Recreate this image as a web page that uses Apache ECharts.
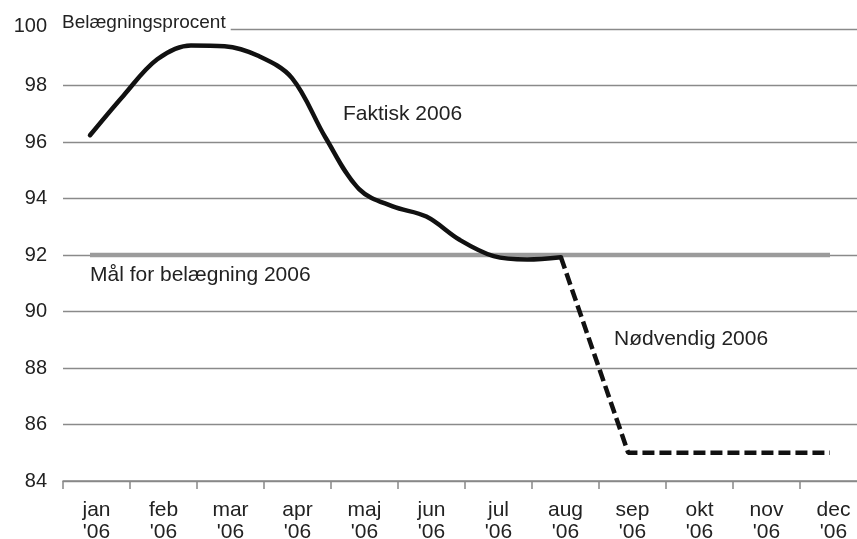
<!DOCTYPE html>
<html>
<head>
<meta charset="utf-8">
<script src="https://cdn.jsdelivr.net/npm/echarts@6/dist/echarts.min.js"></script>
<style>
html,body{margin:0;padding:0;background:#fff;}
#chart{width:857px;height:539px;}
</style>
</head>
<body>
<div id="chart"></div>
<script>
// ---- data ----
const monthLabels = ['jan\n\'06','feb\n\'06','mar\n\'06','apr\n\'06','maj\n\'06','jun\n\'06','jul\n\'06','aug\n\'06','sep\n\'06','okt\n\'06','nov\n\'06','dec\n\'06'];
const yTicks = [84, 86, 88, 90, 92, 94, 96, 98, 100];
// Faktisk 2006: half-month readings (0 = jan ... 7 = aug)
const faktiskMonths = [0, 0.5, 1, 1.5, 2, 2.5, 3, 3.5, 4, 4.5, 5, 5.5, 6, 6.5, 7];
const faktiskValues = [96.24, 97.65, 98.93, 99.42, 99.39, 99.05, 98.27, 96.16, 94.33, 93.72, 93.36, 92.53, 91.96, 91.84, 91.92];
// Nødvendig 2006
const noedMonths = [7, 8, 11];
const noedValues = [91.92, 85, 85];
// Mål for belægning 2006
const maalMonths = [0, 11];
const maalValues = [92, 92];

const FONT = '"Liberation Sans", Arial, Helvetica, sans-serif';
const toPairs = (xs, ys) => xs.map((x, i) => [x, ys[i]]);

const chart = echarts.init(document.getElementById('chart'), null, {renderer: 'canvas'});
chart.setOption({
  backgroundColor: '#fff',
  animation: false,
  title: {
    text: 'Belægningsprocent',
    left: 60,
    top: 13,
    padding: [0, 5, 0, 2],
    backgroundColor: '#fff',
    textStyle: {fontFamily: FONT, fontSize: 19, fontWeight: 'normal', color: '#222'}
  },
  grid: {left: 63, right: -10, top: 29, bottom: 58, containLabel: false, outerBoundsMode: 'none'},
  xAxis: [{
    type: 'category',
    data: monthLabels,
    boundaryGap: true,
    axisLine: {show: true, lineStyle: {color: '#888', width: 1.5}},
    axisTick: {show: true, length: 8, alignWithLabel: false, lineStyle: {color: '#888', width: 1.5}},
    axisLabel: {fontFamily: FONT, fontSize: 21, color: '#222', margin: 18, lineHeight: 22, interval: 0},
    splitLine: {show: false}
  }, {
    type: 'value',
    show: false,
    min: -0.4014,
    max: 11.55
  }],
  yAxis: {
    type: 'value',
    min: yTicks[0],
    max: yTicks[yTicks.length - 1],
    interval: 2,
    axisLine: {show: false},
    axisTick: {show: false},
    axisLabel: {
      fontFamily: FONT, fontSize: 20, color: '#222', margin: 16,
      formatter: v => v === 100 ? '{top|100}' : String(v),
      rich: {top: {fontFamily: FONT, fontSize: 20, color: '#222', padding: [0, 0, 6, 0]}}
    },
    splitLine: {show: true, lineStyle: {color: '#8a8a8a', width: 1.3}}
  },
  series: [{
    name: 'Mål for belægning 2006',
    type: 'line',
    xAxisIndex: 1,
    data: toPairs(maalMonths, maalValues),
    symbol: 'none',
    lineStyle: {color: '#9b9b9b', width: 4.5}
  }, {
    name: 'Faktisk 2006',
    type: 'line',
    xAxisIndex: 1,
    data: toPairs(faktiskMonths, faktiskValues),
    symbol: 'none',
    smooth: 0.35,
    lineStyle: {color: '#111', width: 4.5, cap: 'round'}
  }, {
    name: 'Nødvendig 2006',
    type: 'line',
    xAxisIndex: 1,
    data: toPairs(noedMonths, noedValues),
    symbol: 'none',
    lineStyle: {color: '#111', width: 4.5, type: [12, 5]}
  }],
  graphic: [
    {type: 'text', left: 343, top: 104, style: {text: 'Faktisk 2006', font: '21px ' + FONT, fill: '#222'}},
    {type: 'text', left: 90, top: 265, style: {text: 'Mål for belægning 2006', font: '21px ' + FONT, fill: '#222'}},
    {type: 'text', left: 614, top: 329, style: {text: 'Nødvendig 2006', font: '21px ' + FONT, fill: '#222'}}
  ]
});
</script>
</body>
</html>
